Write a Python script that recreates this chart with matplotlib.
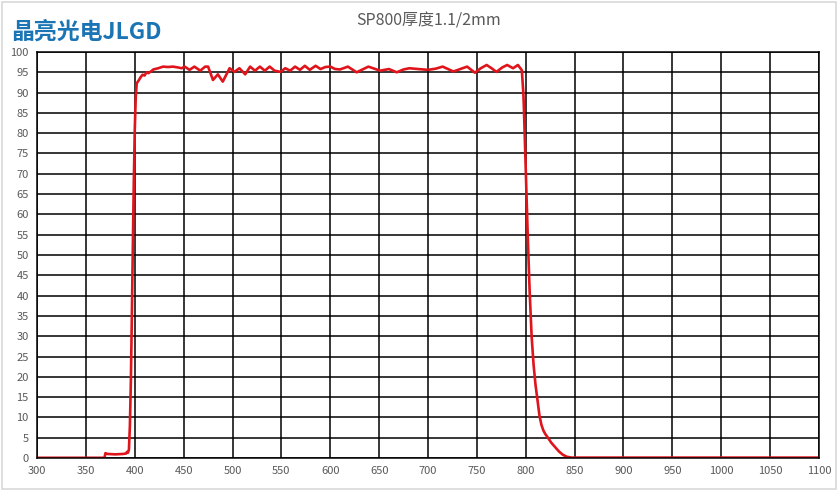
import matplotlib.pyplot as plt
import matplotlib.patches as patches
import numpy as np

plt.rcParams['font.family'] = ['Noto Sans CJK SC', 'DejaVu Sans']

# wavelength (nm) and transmission (%)
wavelength = [300, 369, 370, 372, 380, 388, 391, 392, 393, 394, 395, 396, 397, 398, 399,
              400, 401, 402, 404, 406, 408, 410, 412, 414, 417, 419, 424, 429, 434, 439,
              444, 448, 451, 456, 461, 467, 472, 475, 480, 485, 490, 497, 502, 507, 513,
              518, 523, 528, 533, 538, 543, 549, 554, 559, 564, 569, 574, 579, 585, 590,
              595, 600, 605, 610, 618, 627, 639, 651, 660, 668, 675, 681, 690, 700, 708,
              715, 726, 733, 740, 748, 754, 760, 765, 770, 776, 781, 787, 792, 796, 797.5,
              798, 800, 802, 804, 806, 808, 810, 812, 814, 816, 818, 820, 823, 826, 830,
              834, 838, 842, 847, 900, 1000, 1100]
transmission = [0.05, 0.05, 1.2, 1.0, 0.9, 1.0, 1.1, 1.5, 1.3, 2.0, 8.0, 19.0, 35.0, 52.0, 68.0,
                81.0, 89.0, 92.3, 93.0, 93.8, 94.4, 94.2, 95.0, 94.8, 95.3, 95.7, 96.0, 96.4, 96.3, 96.4,
                96.2, 96.0, 96.4, 95.6, 96.4, 95.4, 96.4, 96.4, 93.1, 94.5, 92.7, 96.0, 95.1, 96.0, 94.5,
                96.4, 95.4, 96.4, 95.4, 96.4, 95.4, 95.1, 96.0, 95.4, 96.4, 95.6, 96.6, 95.6, 96.6, 95.8,
                96.3, 96.4, 95.8, 95.7, 96.4, 95.0, 96.4, 95.4, 95.8, 95.0, 95.7, 96.0, 95.8, 95.6, 95.9,
                96.4, 95.2, 95.8, 96.4, 94.9, 96.0, 96.8, 96.0, 95.1, 96.2, 96.8, 96.0, 96.8, 95.5, 90.0,
                87.0, 71.0, 55.0, 41.0, 30.0, 23.0, 18.0, 14.3, 10.5, 8.2, 6.8, 5.9, 4.9, 3.8, 2.7,
                1.6, 0.8, 0.3, 0.1, 0.1, 0.1, 0.1]

x_ticks = np.arange(300, 1101, 50)
y_ticks = np.arange(0, 101, 5)

fig = plt.figure(figsize=(8.38, 4.91), dpi=100)
ax = fig.add_axes([0.0442, 0.0672, 0.9331, 0.8269])

ax.plot(wavelength, transmission, color='#e0141b', linewidth=1.9)

ax.set_xlim(300, 1100)
ax.set_ylim(0, 100)
ax.set_xticks(x_ticks)
ax.set_yticks(y_ticks)
ax.tick_params(length=0, labelsize=8, labelcolor='#595959', pad=6)
ax.grid(True, color='black', linewidth=1.1)
ax.set_axisbelow(True)
for s in ax.spines.values():
    s.set_color('black')
    s.set_linewidth(1.1)

fig.text(0.511, 0.958, 'SP800厚度1.1/2mm', ha='center', va='center',
         fontsize=11.5, color='#595959')
fig.text(0.013, 0.935, '晶亮光电JLGD', ha='left', va='center',
         fontsize=16.5, fontweight='heavy', color='#1b75b5')

# light frame around the picture
fig.patches.append(patches.Rectangle((0.002, 0.004), 0.996, 0.992, transform=fig.transFigure,
                                     fill=False, edgecolor='#d9d9d9', linewidth=1.2))

fig.savefig('out.png', dpi=100)
